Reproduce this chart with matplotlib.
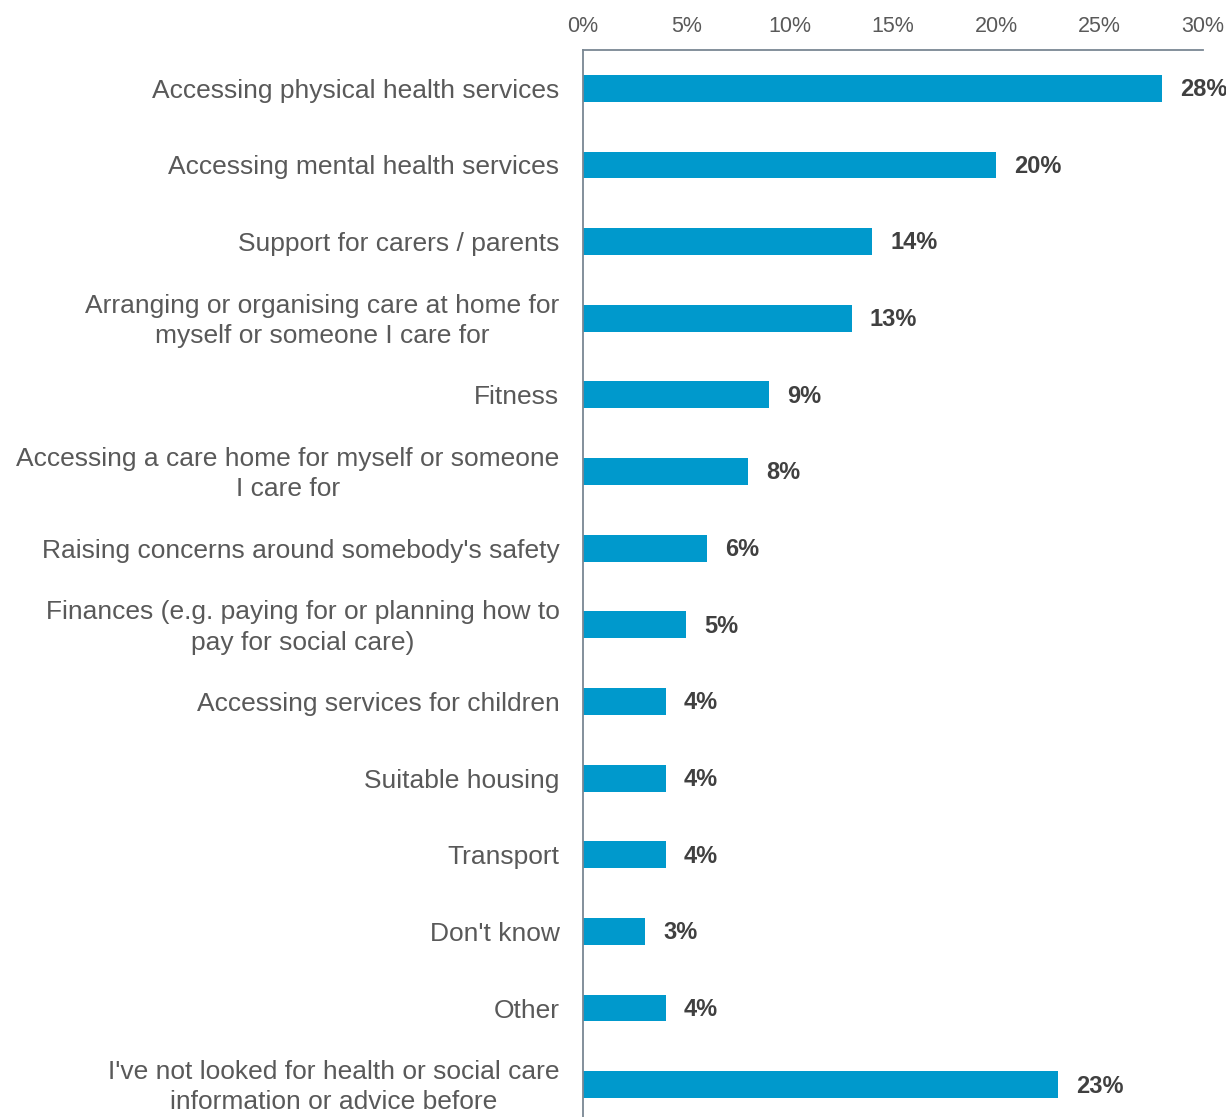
import matplotlib
matplotlib.use("Agg")
import matplotlib.pyplot as plt
import matplotlib.transforms as mtransforms
from matplotlib.ticker import FuncFormatter

plt.rcParams['font.family'] = ['Liberation Sans', 'DejaVu Sans']

categories = [
    "Accessing physical health services",
    "Accessing mental health services",
    "Support for carers / parents",
    "Arranging or organising care at home for\nmyself or someone I care for",
    "Fitness",
    "Accessing a care home for myself or someone\nI care for",
    "Raising concerns around somebody's safety",
    "Finances (e.g. paying for or planning how to\npay for social care)",
    "Accessing services for children",
    "Suitable housing",
    "Transport",
    "Don't know",
    "Other",
    "I've not looked for health or social care\ninformation or advice before",
]
values = [28, 20, 14, 13, 9, 8, 6, 5, 4, 4, 4, 3, 4, 23]
x_ticks = [0, 5, 10, 15, 20, 25, 30]

bar_color = "#0099CC"
text_gray = "#595959"
value_gray = "#404040"
spine_color = "#7A8793"

fig = plt.figure(figsize=(12.26, 11.17), dpi=100)
ax = fig.add_axes([583 / 1226, -6 / 1117, 620 / 1226, 1073 / 1117])

y = list(range(len(categories)))
ax.barh(y, values, height=0.35, color=bar_color)

ax.set_xlim(0, 30)
ax.set_ylim(len(categories) - 0.5, -0.5)

ax.xaxis.tick_top()
ax.set_xticks(x_ticks)
ax.xaxis.set_major_formatter(FuncFormatter(lambda v, p: f"{v:.0f}%"))
ax.tick_params(axis='x', length=0, pad=9, labelsize=15.5, labelcolor=text_gray)

ax.set_yticks(y)
ax.set_yticklabels(categories, fontsize=19, color=text_gray, linespacing=1.33,
                   multialignment='center')
ax.tick_params(axis='y', length=0, pad=17)

# two-line category labels sit a little low; lift them onto the bar centre
shift = mtransforms.ScaledTranslation(0, 3 / 100, fig.dpi_scale_trans)
for lbl in ax.get_yticklabels():
    if "\n" in lbl.get_text():
        lbl.set_transform(lbl.get_transform() + shift)

for side in ("right", "bottom"):
    ax.spines[side].set_visible(False)
for side in ("left", "top"):
    ax.spines[side].set_color(spine_color)
    ax.spines[side].set_linewidth(1.3)

for yi, v in zip(y, values):
    ax.annotate(f"{v}%", xy=(v, yi), xytext=(13, -1), textcoords="offset points",
                va="center", ha="left", fontsize=17, fontweight="bold",
                color=value_gray)

fig.savefig("out.png", dpi=100)
